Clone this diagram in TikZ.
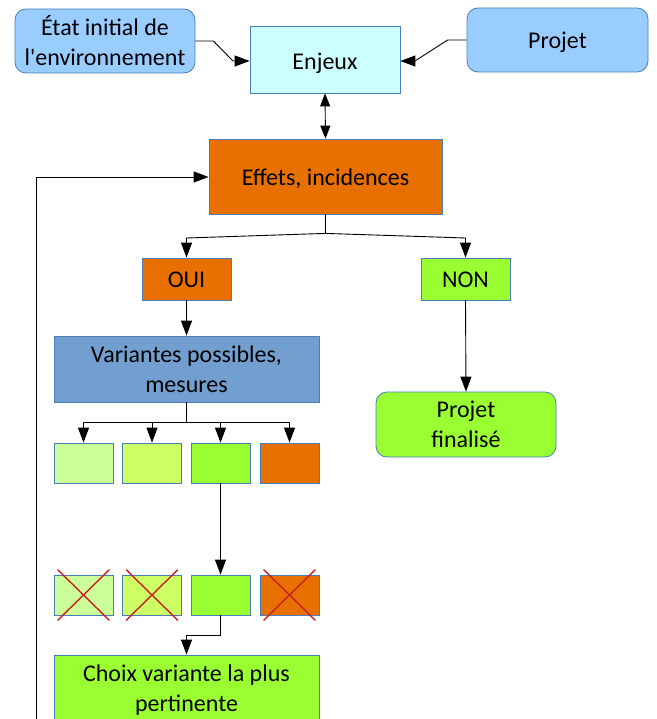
\documentclass[tikz,border=0pt]{standalone}
\usepackage{fontspec}
\setmainfont{Carlito}
\usetikzlibrary{arrows.meta,calc}
\definecolor{bordc}{HTML}{4A7EBB}
\definecolor{lblue}{HTML}{99CCFF}
\definecolor{cyanl}{HTML}{CCFFFF}
\definecolor{orng}{HTML}{E87000}
\definecolor{vblue}{HTML}{729FCF}
\definecolor{g1}{HTML}{CCFF99}
\definecolor{g2}{HTML}{CCFF66}
\definecolor{g3}{HTML}{99FF33}
\definecolor{xred}{HTML}{C9211E}
\newcommand{\lowr}[2]{\raisebox{-#1}[\height][\depth]{#2}}
\tikzset{
  box/.style={draw=bordc, line width=0.8pt, rectangle, inner sep=0pt, align=center,
    font=\fontsize{24}{30}\selectfont},
  rbox/.style={box, rounded corners=11pt},
  arr/.style={-{Triangle[length=15pt,width=11pt]}, line width=0.9pt},
  dbl/.style={{Triangle[length=13pt,width=10pt]}-{Triangle[length=13pt,width=10pt]}, line width=0.9pt},
  conn/.style={line width=0.9pt},
  xline/.style={draw=xred, line width=1.4pt}
}
\begin{document}
\begin{tikzpicture}[x=1pt,y=-1pt]
\useasboundingbox (0,0) rectangle (656,719);
\node[rbox, fill=lblue, minimum width=180pt, minimum height=64pt] (etat) at (105,41) {État initial de\\l\textquotesingle environnement};
\node[box, fill=cyanl, minimum width=150pt, minimum height=67pt] (enjeux) at (325,59.5) {\lowr{4pt}{Enjeux}};
\node[rbox, fill=lblue, minimum width=181pt, minimum height=64pt] (projet) at (557.5,40) {\lowr{2pt}{Projet}};
\node[box, fill=orng, minimum width=233pt, minimum height=75pt] (effets) at (325.5,176.5) {\lowr{2pt}{Effets, incidences}};
\node[box, fill=orng, minimum width=89pt, minimum height=42pt] (oui) at (186.5,279) {\lowr{1pt}{OUI}};
\node[box, fill=g3, minimum width=89pt, minimum height=42pt] (non) at (465.5,279) {\lowr{1pt}{NON}};
\node[box, fill=vblue, minimum width=265pt, minimum height=66pt] (var) at (186.5,369) {Variantes possibles,\\mesures};
\node[rbox, fill=g3, minimum width=180pt, minimum height=65pt] (fin) at (466,424.5) {Projet\\finalisé};
\foreach \n/\x/\c in {1/83.5/g1, 2/152/g2, 3/220.5/g3, 4/289.5/orng}{
  \node[box, fill=\c, minimum width=59pt, minimum height=40pt] (a\n) at (\x,463) {};
  \node[box, fill=\c, minimum width=59pt, minimum height=40pt] (b\n) at (\x,595) {};
}
\node[box, fill=g3, minimum width=265pt, minimum height=70pt] (choix) at (186.5,690) {Choix variante la plus\\pertinente};
% crosses
\foreach \n in {1,2,4}{
  \draw[xline] ($(b\n.north west)+(4,-5)$) -- ($(b\n.south east)+(-4,5)$);
  \draw[xline] ($(b\n.north east)+(-4,-5)$) -- ($(b\n.south west)+(4,5)$);
}
% connectors
\draw[arr] (etat.east) -- ++(18,0) -- (233,61) -- (enjeux.west |- 0,61);
\draw[arr] (projet.west) -- ++(-19,0) -- (415,61) -- (enjeux.east |- 0,61);
\draw[dbl] (enjeux.south) -- (effets.north);
\draw[conn] (effets.south) -- ++(0,19) coordinate (fk);
\draw[arr] (fk) -- (186.5,238) -- (oui.north);
\draw[arr] (fk) -- (465.5,238) -- (non.north);
\draw[arr] (oui.south) -- (var.north);
\draw[arr] (non.south) -- (fin.north);
\draw[conn, line width=1.6pt] (var.south) -- ++(0,20) coordinate (f2);
\foreach \n in {1,2,3,4}{\draw[arr] (f2) -| (a\n.north);}
\draw[arr] (a3.south) -- (b3.north);
\draw[arr] (b3.south) -- ++(0,20) -| (choix.north);
\coordinate (lp) at (36,740);
\draw[arr] (lp) -- (36,177) -- (effets.west |- 0,177);
\end{tikzpicture}
\end{document}
